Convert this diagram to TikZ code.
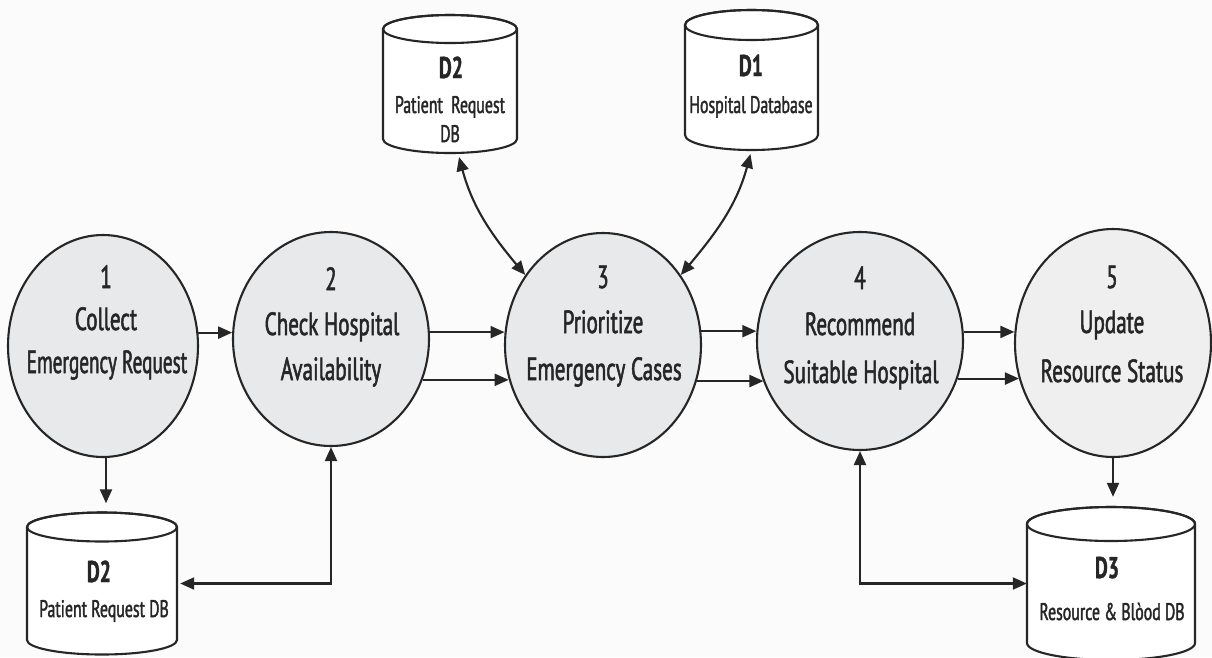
\documentclass[tikz,border=0pt]{standalone}
\usepackage{fontspec}
\usepackage{graphicx}
\setmainfont{PT Sans}[FakeStretch=0.66, UprightFeatures={FakeBold=1.6}, BoldFeatures={FakeBold=1.2}]
\usetikzlibrary{arrows.meta,shapes.geometric}
\definecolor{ink}{HTML}{262626}
\definecolor{bubble}{HTML}{E8E9EB}
\definecolor{bubblelt}{HTML}{EFEFF0}
\definecolor{bgc}{HTML}{FBFBFB}
\newcommand\dbcyl[6]{%
  \path[fill=white, draw=ink, line width=2.1pt] (#2-#5,-#3) -- (#2-#5,-#4)
    arc[start angle=180,end angle=360,x radius=#5,y radius=#6] -- (#2+#5,-#3)
    arc[start angle=0,end angle=180,x radius=#5,y radius=#6] -- cycle;
  \draw[ink, line width=2.1pt] (#2,-#3) ellipse[x radius=#5, y radius=#6];
  \node[inner sep=0pt, minimum width=2*#5, minimum height=#4-#3+2*#6] (#1) at (#2,{-(#3+#4)/2}) {};
}
\begin{document}
\begin{tikzpicture}[x=1pt,y=1pt,
  proc/.style={ellipse, draw=ink, line width=2.1pt, fill=bubble, inner sep=0pt},
  ptxt/.style={anchor=base, text=ink, font=\fontsize{32}{33}\selectfont, inner sep=0pt},
  dbname/.style={anchor=base, text=ink, font=\fontsize{30}{31}\selectfont\bfseries, inner sep=0pt},
  dbtxt/.style={anchor=base, text=ink, font=\fontsize{24}{25}\selectfont, inner sep=0pt},
  flow/.style={draw=ink, line width=2.1pt, -{Triangle[length=14pt,width=12pt]}},
  flow2/.style={draw=ink, line width=2.1pt, {Triangle[length=14pt,width=12pt]}-{Triangle[length=14pt,width=12pt]}}
]
\fill[bgc] (0,0) rectangle (1212,-657);
\useasboundingbox (0,0) rectangle (1212,-657);

% data stores
\dbcyl{D2b}{102}{527}{640}{75}{14.5}
\dbcyl{D2t}{450}{29}{139}{67}{14}
\dbcyl{D1}{751.5}{25}{135}{66.5}{15}
\dbcyl{D3}{1111}{524}{643}{84}{17}

\node[dbname] (D2tn) at (451,-78) {D2};
\node[dbtxt] (D2tl1) at (450,-113) {Patient\ \ Request};
\node[dbtxt] (D2tl2) at (450,-142) {DB};
\node[dbname] (D1n) at (751,-76) {D1};
\node[dbtxt] (D1l) at (751,-113) {Hospital Database};
\node[dbname] (D2bn) at (99,-582) {D2};
\node[dbtxt] (D2bl) at (104,-617) {Patient Request DB};
\node[dbname] (D3n) at (1107,-578) {D3};
\node[dbtxt] (D3l) at (1112,-620) {Resource \& Bl\`{o}od DB};

% processes
\node[proc, minimum width=190, minimum height=222] (c1) at (103,-346) {};
\node[proc, minimum width=196, minimum height=214] (c2) at (331,-339) {};
\node[proc, minimum width=196, minimum height=224] (c3) at (603,-345) {};
\node[proc, minimum width=206, minimum height=218] (c4) at (860,-341) {};
\node[proc, fill=bubblelt, minimum width=196, minimum height=228] (c5) at (1113,-343) {};

\node[ptxt] (t1a) at (106,-288) {1};
\node[ptxt] (t1b) at (106,-330) {Collect};
\node[ptxt] (t1c) at (107,-373) {\scalebox{0.91}[1]{Emergency Request}};
\node[ptxt] (t2a) at (331,-290) {2};
\node[ptxt] (t2b) at (332,-335) {Check Hospital};
\node[ptxt] (t2c) at (331,-380) {Availability};
\node[ptxt] (t3a) at (603,-288) {3};
\node[ptxt] (t3b) at (603,-333) {Prioritize};
\node[ptxt] (t3c) at (604,-380) {Emergency Cases};
\node[ptxt] (t4a) at (860,-289) {4};
\node[ptxt] (t4b) at (860,-335) {Recommend};
\node[ptxt] (t4c) at (861,-383) {Suitable Hospital};
\node[ptxt] (t5a) at (1112,-288) {5};
\node[ptxt] (t5b) at (1112,-333) {Update};
\node[ptxt] (t5c) at (1112,-382) {Resource Status};

% flows
\draw[flow] (c1.8) -- (c1.8 -| c2.176);
\draw[flow] (c2.4) -- (c2.4 -| c3.173);
\draw[flow] (c2.-24) -- (c2.-24 -| c3.-160);
\draw[flow] (c3.8) -- (c3.8 -| c4.175);
\draw[flow] (c3.-21) -- (c3.-21 -| c4.-157);
\draw[flow] (c4.5) -- (c4.5 -| c5.174);
\draw[flow] (c4.-21) -- (c4.-21 -| c5.-159);

\draw[flow, shorten >=9pt] ([xshift=3pt]c1.south) -- ([xshift=3pt]c1.south |- D2b.north);
\draw[flow, shorten >=10pt] (c5.south) -- (c5.south |- D3.north);
\draw[flow2, shorten <=3pt] (D2b.east) -| (c2.south);
\draw[flow2] (c4.south) |- (D3.west);
\draw[flow2, shorten <=4pt] ([xshift=8pt]D2t.south) to[out=-75,in=130] (c3.138);
\draw[flow2, shorten <=4pt] (D1.south) to[out=-105,in=50] (c3.42);
\end{tikzpicture}
\end{document}
